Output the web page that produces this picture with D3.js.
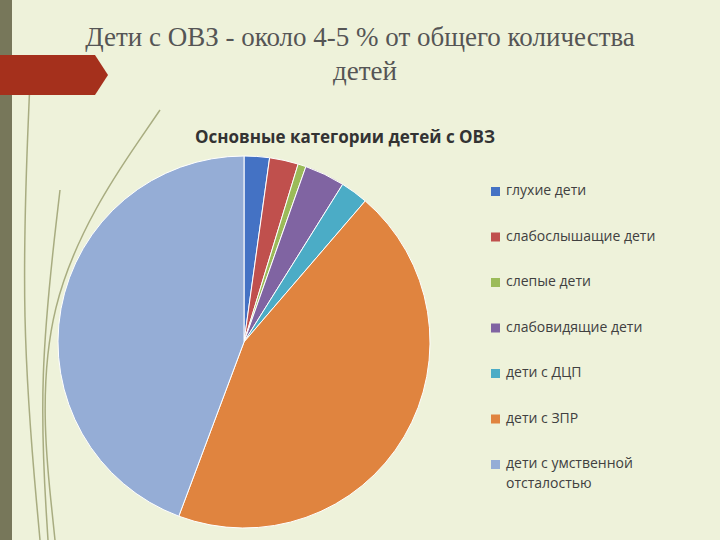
<!DOCTYPE html>
<html><head><meta charset="utf-8">
<script src="https://cdn.jsdelivr.net/npm/d3@7"></script>
<style>body{margin:0;background:#eef2da}</style>
</head><body><div id="container"></div>
<script>
// data
let categories = ["глухие дети", "слабослышащие дети", "слепые дети", "слабовидящие дети", "дети с ДЦП", "дети с ЗПР", "дети с умственной отсталостью"];
let values = [2.2, 2.5, 0.7, 3.5, 2.4, 44.4, 44.3];
let colors = ["#4472c4", "#c0504d", "#9bbb59", "#8064a2", "#4bacc6", "#e0843f", "#95add6"];

let width = 720, height = 540;
let svg = d3.select("#container").append("svg").attr("width", width).attr("height", height);

svg.append("rect").attr("width", width).attr("height", height).attr("fill", "#eef2da");
svg.append("rect").attr("width", 12).attr("height", height).attr("fill", "#77775a");

//decorative lines
let deco = [[[40, 540], [20, 320], [30, 80]], [[48, 540], [38, 380], [60, 190]], [[55, 540], [30, 300], [160, 110]]];
deco.forEach(p => svg.append("path").attr("d", d3.line().curve(d3.curveBasis)(p))
    .attr("fill", "none").attr("stroke", "#8a8f5a").attr("stroke-width", 1.5).attr("opacity", 0.7));

//red banner
svg.append("path").attr("d", "M0,55 L95,55 L108,75 L95,95 L0,95 Z").attr("fill", "#a5301c");

//title
let title = svg.append("text").attr("text-anchor", "middle").attr("font-family", "Liberation Serif")
    .attr("font-size", 27).attr("fill", "#555");
title.append("tspan").attr("x", 360).attr("y", 46).text("Дети с ОВЗ - около 4-5 % от общего количества");
title.append("tspan").attr("x", 365).attr("y", 80).text("детей");

svg.append("text").attr("x", 345).attr("y", 143).attr("text-anchor", "middle")
    .attr("font-family", "Open Sans").attr("font-weight", "bold").attr("font-size", 17).attr("fill", "#333")
    .text("Основные категории детей с ОВЗ");

let pie = d3.pie().sort(null)(values);
let arc = d3.arc().innerRadius(0).outerRadius(186);
svg.append("g").attr("transform", "translate(244,342)")
    .selectAll("path").data(pie).enter().append("path")
    .attr("d", arc).attr("fill", (d, i) => colors[i]).attr("stroke", "#fff").attr("stroke-width", 1);

//legend
let legend = svg.append("g").selectAll("g").data(categories).enter().append("g")
    .attr("transform", (d, i) => "translate(491," + (195 + i * 45.5) + ")");
legend.append("rect").attr("width", 9).attr("height", 9).attr("y", -8).attr("fill", (d, i) => colors[i]);
legend.append("text").attr("x", 15).attr("font-family", "Open Sans").attr("font-size", 14).attr("fill", "#404040")
    .each(function (d) {
        let parts = d === "дети с умственной отсталостью" ? ["дети с умственной", "отсталостью"] : [d];
        parts.forEach((p, j) => d3.select(this).append("tspan").attr("x", 15).attr("dy", j ? 20 : 0).text(p));
    });
</script></body></html>
